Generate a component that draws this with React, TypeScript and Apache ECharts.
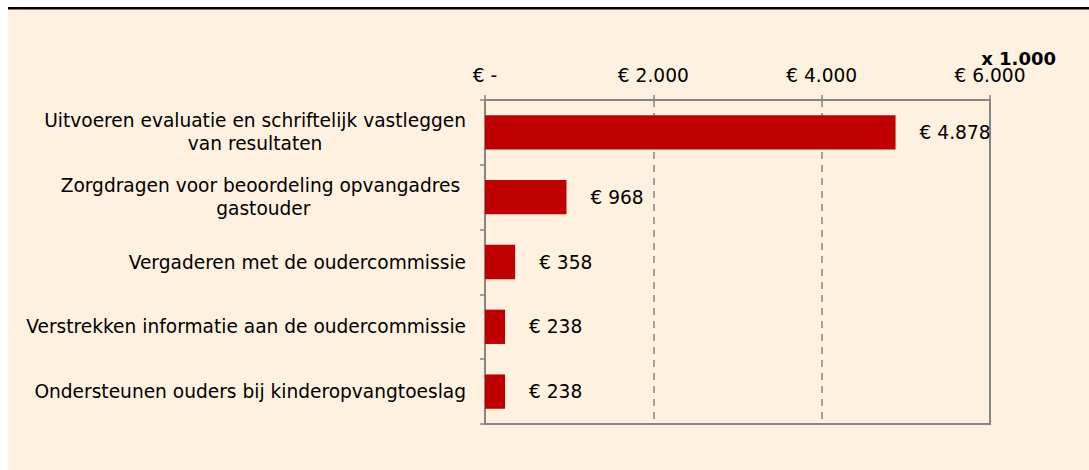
import React, { useEffect, useRef } from "react";
import * as echarts from "echarts";

const categories: string[] = [
  "Uitvoeren evaluatie en schriftelijk vastleggen\nvan resultaten",
  "Zorgdragen voor beoordeling opvangadres \ngastouder",
  "Vergaderen met de oudercommissie",
  "Verstrekken informatie aan de oudercommissie",
  "Ondersteunen ouders bij kinderopvangtoeslag",
];
const values: number[] = [4878, 968, 358, 238, 238];
const axisMin = 0;
const axisMax = 6000;
const axisInterval = 2000;
const unitLabel = "x 1.000";

const FONT = "'DejaVu Sans', Verdana, sans-serif";
const BG = "#FFF1DF";
const GRAY = "#868686";
const FS = 18.6;

function fmt(v: number): string {
  return String(Math.round(v)).replace(/\B(?=(\d{3})+(?!\d))/g, ".");
}

export default function App() {
  const ref = useRef<HTMLDivElement>(null);
  useEffect(() => {
    document.body.style.overflow = "hidden";
    const chart = echarts.init(ref.current!, undefined, { renderer: "svg" });
    chart.setOption({
      animation: false,
      backgroundColor: BG,
      textStyle: { fontFamily: FONT },
      title: {
        text: unitLabel,
        right: 33,
        top: 42,
        padding: 0,
        textStyle: { fontFamily: FONT, fontSize: 18, fontWeight: "bold", color: "#000" },
      },
      graphic: [
        {
          type: "rect",
          left: 0,
          top: 0,
          shape: { width: 1081, height: 2.5 },
          style: { fill: "#000" },
        },
      ],
      grid: {
        left: 477,
        right: 99,
        top: 93,
        bottom: 46,
        show: true,
        borderColor: GRAY,
        borderWidth: 2,
        backgroundColor: "transparent",
      },
      xAxis: {
        type: "value",
        position: "top",
        min: axisMin,
        max: axisMax,
        interval: axisInterval,
        axisLine: { show: true, lineStyle: { color: GRAY, width: 2 } },
        axisTick: { show: true, length: 5, lineStyle: { color: GRAY, width: 1.5 } },
        splitLine: { show: true, lineStyle: { color: GRAY, type: [7, 6], width: 1.5 } },
        axisLabel: {
          margin: 15,
          fontFamily: FONT,
          fontSize: FS,
          color: "#000",
          formatter: (v: number) => (v === 0 ? "€ -" : "€ " + fmt(v)),
        },
      },
      yAxis: {
        type: "category",
        inverse: true,
        data: categories,
        axisLine: { show: true, lineStyle: { color: GRAY, width: 2 } },
        axisTick: { show: true, length: 5, lineStyle: { color: GRAY, width: 1.5 } },
        axisLabel: {
          margin: 19,
          formatter: (v: string) =>
            v
              .split("\n")
              .map((l) => `{c|${l}}`)
              .join("\n"),
          rich: {
            c: {
              align: "center",
              fontFamily: FONT,
              fontSize: FS,
              lineHeight: 23,
              color: "#000",
            },
          },
        },
      },
      series: [
        {
          type: "bar",
          data: values,
          barCategoryGap: "47%",
          itemStyle: { color: "#C00000" },
          label: {
            show: true,
            position: "right",
            distance: 24,
            fontFamily: FONT,
            fontSize: FS,
            color: "#000",
            formatter: (p: any) => "€ " + fmt(p.value),
          },
        },
      ],
    });
    return () => chart.dispose();
  }, []);
  return (
    <div
      ref={ref}
      style={{ position: "absolute", left: 8, top: 7, width: 1081, height: 463 }}
    />
  );
}
